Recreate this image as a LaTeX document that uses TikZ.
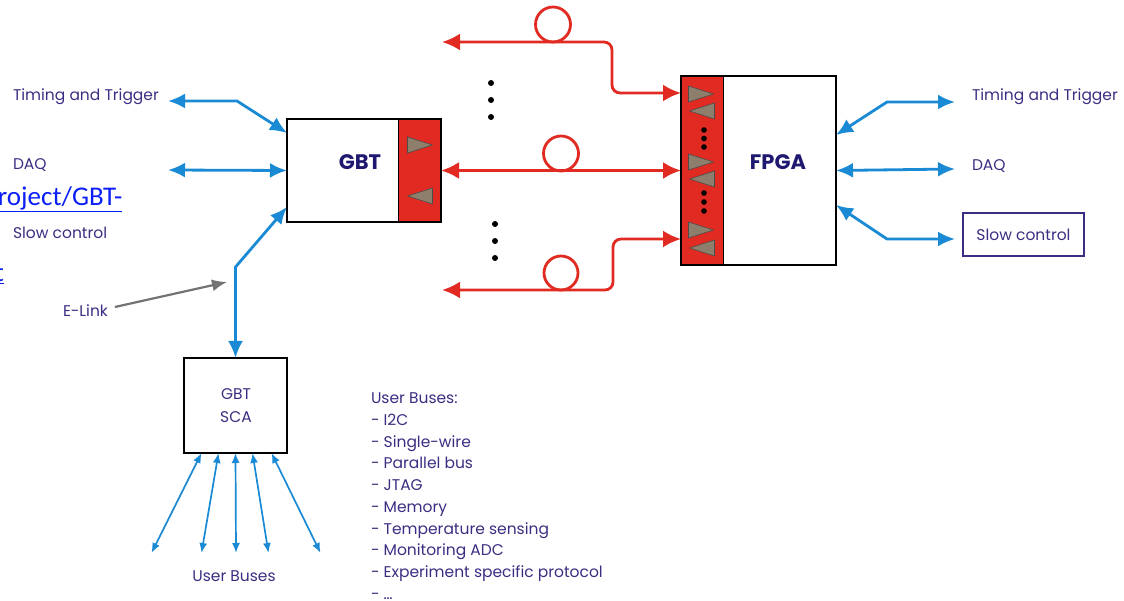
\documentclass[tikz,border=0pt]{standalone}
\usepackage{fontspec}
\setmainfont{Poppins}
\newfontfamily\linkfont{Carlito}
\usepackage{xcolor}
\definecolor{LabelInk}{HTML}{3A2E82}
\definecolor{ChipInk}{HTML}{1E1870}
\definecolor{BusBlue}{HTML}{1A8AD4}
\definecolor{PortRed}{HTML}{E02A22}
\definecolor{TriBrown}{HTML}{8E7F6C}
\definecolor{LinkBlue}{HTML}{0A1EF5}
\usepackage{tikz}
\usetikzlibrary{arrows.meta}

\begin{document}
\begin{tikzpicture}[x=1pt, y=-1pt, >=Latex,
  every node/.style={font=\fontsize{15.5}{18}\selectfont, text=LabelInk, inner sep=0pt, outer sep=0pt},
  chip/.style={draw, line width=2.6pt, fill=white},
  chipedge/.style={draw, line width=2.6pt},
  port/.style={draw, line width=1pt, fill=PortRed},
  chiplbl/.style={font=\fontsize{21}{24}\selectfont\bfseries, text=ChipInk},
  bus/.style={draw=BusBlue, line width=2.8pt, {Latex[length=17pt,width=15pt]}-{Latex[length=17pt,width=15pt]}},
  subbus/.style={draw=BusBlue, line width=1.7pt, {Latex[length=10pt,width=8pt]}-{Latex[length=10pt,width=8pt]}},
  fiber/.style={draw=PortRed, line width=2.8pt, rounded corners=8pt},
  fiberend/.style={{Latex[length=18pt,width=17pt]}-{Latex[length=18pt,width=17pt]}},
  pointer/.style={draw=black!55, line width=2.2pt, -{Latex[length=15pt,width=12pt]}},
  tri/.style={fill=TriBrown, draw=black!70, line width=0.6pt},
  link/.style={font=\linkfont\fontsize{27}{30}\selectfont, text=LinkBlue}]
  \useasboundingbox (0,0) rectangle (1124,601);

  % chips
  \node[chip, minimum width=154pt, minimum height=103pt] (gbt) at (364,170.5) {};
  \node[port, minimum width=43pt, minimum height=103pt, anchor=north east] (gbtport) at (gbt.north east) {};
  \draw[chipedge] (gbt.north west) rectangle (gbt.south east);
  \node[chiplbl] (gbtlbl) at (360,162) {GBT};

  \node[chip, minimum width=155pt, minimum height=189pt] (fpga) at (758.5,170.5) {};
  \node[port, minimum width=42pt, minimum height=189pt, anchor=north west] (fpgaport) at (fpga.north west) {};
  \draw[chipedge] (fpga.north west) rectangle (fpga.south east);
  \node[chiplbl] (fpgalbl) at (778,162) {FPGA};

  \node[chip, minimum width=103pt, minimum height=95pt] (sca) at (235.5,405.5) {};
  \node[align=center, font=\fontsize{15.5}{23}\selectfont] (scalbl) at (236,406) {GBT\\SCA};

  % transceivers
  \foreach \tx/\ty/\dir in {420/145/1, 420/196/-1, 701/94/1, 702/111/-1, 701/162/1, 702/179/-1, 701/230/1, 702/248/-1}
    \draw[tri] (\tx-12.5*\dir, \ty-8) -- (\tx+12.5*\dir, \ty) -- (\tx-12.5*\dir, \ty+8) -- cycle;
  \foreach \dy in {130,138.5,147,193,202,211}
    \fill (704,\dy) circle[radius=2.8pt];

  % optical links
  \coordinate (fibA) at (442,42);
  \coordinate (fibC) at (442,290);
  \draw[fiber, fiberend] (fibA) -- (612,42) -- (612,93) -- ([yshift=77.5pt]fpgaport.west);
  \draw[fiber, fiberend] (gbtport.east) -- (fpgaport.west);
  \draw[fiber, fiberend] (fibC) -- (613,290) -- (613,239) -- ([yshift=-68.5pt]fpgaport.west);
  \draw[fiber] (553,24.5) circle[radius=17.5pt];
  \draw[fiber] (561,153.5) circle[radius=17.5pt];
  \draw[fiber] (561,273) circle[radius=17pt];
  \foreach \dy in {83,100,117} \fill (491,\dy) circle[radius=3pt];
  \foreach \dy in {224,241,258} \fill (495,\dy) circle[radius=3pt];

  % front-end side
  \node[anchor=west] (ttL) at (13,97) {Timing and Trigger};
  \node[anchor=west] (daqL) at (13,165) {DAQ};
  \node[link, anchor=west] (gbtlink) at (-2,199) {\underline{roject/GBT-}};
  \node[anchor=west] (scL) at (13,233) {Slow control};
  \node[link, anchor=east] (linkcut) at (4,274) {\underline{t}};
  \node[anchor=west] (elink) at (63,311) {E-Link};
  \coordinate (ttLend) at (168,101);
  \coordinate (daqLend) at (168,170);
  \coordinate (elinktip) at (227,282);
  \draw[bus] (ttLend) -- (237,101) -- ([yshift=37.5pt]gbt.west);
  \draw[bus] (daqLend) -- (gbt.west);
  \draw[bus] (sca.north) -- ++(0,-91) -- ([yshift=-36.5pt]gbt.west);
  \draw[pointer] ([xshift=7pt,yshift=4pt]elink.east) -- (elinktip);

  % user buses
  \foreach \dx/\ex [count=\i] in {-34/-84, -17/-34, 0/0.5, 17/33, 36/85} {
    \coordinate (ub\i) at ([xshift=\ex pt, yshift=-100pt]sca.south);
    \draw[subbus] ([xshift=\dx pt]sca.south) -- (ub\i);
  }
  \node (ublbl) at (234,576) {User Buses};
  \node[anchor=north west, align=left, font=\fontsize{15.5}{21.7}\selectfont] (buslist) at (371,393)
    {User Buses:\\- I2C\\- Single-wire\\- Parallel bus\\- JTAG\\- Memory\\- Temperature sensing\\- Monitoring ADC\\- Experiment specific protocol\\- \dots};

  % back-end side
  \node[anchor=west] (ttR) at (972,97) {Timing and Trigger};
  \node[anchor=west] (daqR) at (972,166) {DAQ};
  \node[draw=LabelInk, line width=1.3pt, minimum width=121pt, minimum height=43pt, anchor=west] (scR) at (963,234.5) {Slow control};
  \coordinate (ttRend) at (955,102);
  \coordinate (daqRend) at (955,169);
  \coordinate (scRend) at (955,239);
  \draw[bus] ([yshift=35.5pt]fpga.east) -- (887,102) -- (ttRend);
  \draw[bus] (fpga.east) -- (daqRend);
  \draw[bus] ([yshift=-34.5pt]fpga.east) -- (887,239) -- (scRend);
\end{tikzpicture}
\end{document}
